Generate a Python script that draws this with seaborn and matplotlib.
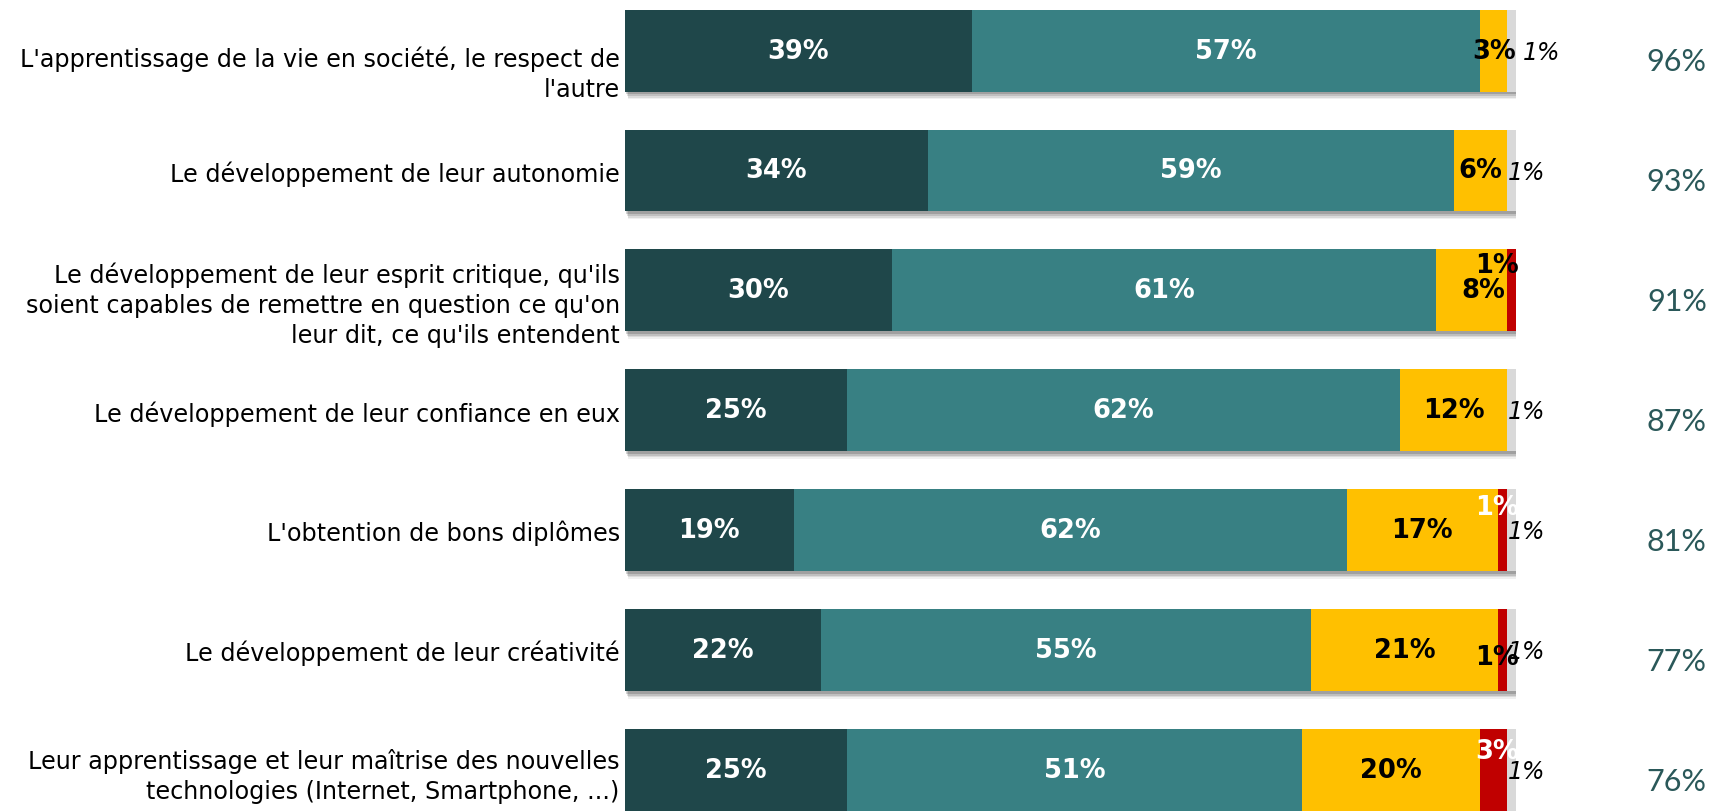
import matplotlib
matplotlib.use("Agg")
import matplotlib.pyplot as plt
import matplotlib.patheffects as pe
from matplotlib.transforms import ScaledTranslation
import numpy as np
import seaborn as sns

categories = [
    "L'apprentissage de la vie en société, le respect de\nl'autre",
    "Le développement de leur autonomie",
    "Le développement de leur esprit critique, qu'ils\nsoient capables de remettre en question ce qu'on\nleur dit, ce qu'ils entendent",
    "Le développement de leur confiance en eux",
    "L'obtention de bons diplômes",
    "Le développement de leur créativité",
    "Leur apprentissage et leur maîtrise des nouvelles\ntechnologies (Internet, Smartphone, ...)",
]
tres_important = [39, 34, 30, 25, 19, 22, 25]
assez_important = [57, 59, 61, 62, 62, 55, 51]
peu_important = [3, 6, 8, 12, 17, 21, 20]
pas_important = [0, 0, 1, 0, 1, 1, 3]
nsp = [1, 1, 0, 1, 1, 1, 1]
totals = [96, 93, 91, 87, 81, 77, 76]

sns.set_theme(style="white")
plt.rcParams["font.family"] = ["DejaVu Sans"]

fig = plt.figure(figsize=(17.12, 8.12), dpi=100)
ax = fig.add_axes([624.5 / 1712, 0, 891.5 / 1712, 1])

colors = ["#1F474A", "#388083", "#FFC000", "#C00000", "#D9D9D9"]
series = [tres_important, assez_important, peu_important, pas_important, nsp]

shadow = [
    pe.SimplePatchShadow(offset=(2.6, -5.6), shadow_rgbFace="#000000", alpha=0.06),
    pe.SimplePatchShadow(offset=(2.2, -4.4), shadow_rgbFace="#000000", alpha=0.09),
    pe.SimplePatchShadow(offset=(1.7, -3.3), shadow_rgbFace="#000000", alpha=0.12),
    pe.SimplePatchShadow(offset=(1.1, -2.1), shadow_rgbFace="#000000", alpha=0.16),
    pe.Normal(),
]

left = np.zeros(len(categories))
for vals, col in zip(series, colors):
    vals = np.array(vals, dtype=float)
    sns.barplot(x=vals, y=categories, left=left, color=col, saturation=1,
                width=0.683, orient="h", errorbar=None, linewidth=0, ax=ax)
    left = left + vals

for p in ax.patches:
    if p.get_width() > 0:
        p.set_path_effects(shadow)

ax.set_xlim(0, 100)
ax.set_ylim(6.342, -0.43)
for s in ax.spines.values():
    s.set_visible(False)
ax.set_xticks([])
ax.set_xlabel("")
ax.set_ylabel("")
ax.tick_params(axis="y", length=0, pad=3.5, labelsize=17.2, labelcolor="#000000")

# small vertical shifts of some category labels
label_shift = {0: -0.17, 2: -0.08}
for i, lab in enumerate(ax.get_yticklabels()):
    lab.set_linespacing(1.32)
    if i in label_shift:
        lab.set_transform(lab.get_transform() +
                          ScaledTranslation(0, label_shift[i], fig.dpi_scale_trans))

bold = dict(fontsize=18.5, fontweight="bold", va="center", ha="center")
for i in range(len(categories)):
    a, b, c = tres_important[i], assez_important[i], peu_important[i]
    ax.text(a / 2, i, f"{a}%", color="white", **bold)
    ax.text(a + b / 2, i, f"{b}%", color="white", **bold)
    yx = a + b + c / 2 + (1.3 if i == 2 else 0)
    ax.text(yx, i, f"{c}%", color="black", **bold)

# red segment labels
red_dy = {2: -0.21, 4: -0.19, 5: 0.06, 6: -0.16}
red_col = {2: "black", 4: "white", 5: "black", 6: "white"}
for i in range(len(categories)):
    d = pas_important[i]
    if d > 0:
        ax.text(100.3, i + red_dy.get(i, 0), f"{d}%", color=red_col.get(i, "black"),
                fontsize=18.5, fontweight="bold", va="center", ha="right", clip_on=False)

# grey (nsp) labels
for i in range(len(categories)):
    e = nsp[i]
    if e > 0:
        gx = 102.9 if i == 0 else 101.2
        ax.text(gx, i + 0.01, f"{e}%", color="black", fontsize=17, style="italic",
                va="center", ha="center", clip_on=False)

# totals
for i, t in enumerate(totals):
    ax.text(121.4, i + 0.09, f"{t}%", color="#2A5859", fontsize=22,
            family=["Lato", "DejaVu Sans"], fontweight="normal",
            va="center", ha="right", clip_on=False)

fig.savefig("out.png", dpi=100)
